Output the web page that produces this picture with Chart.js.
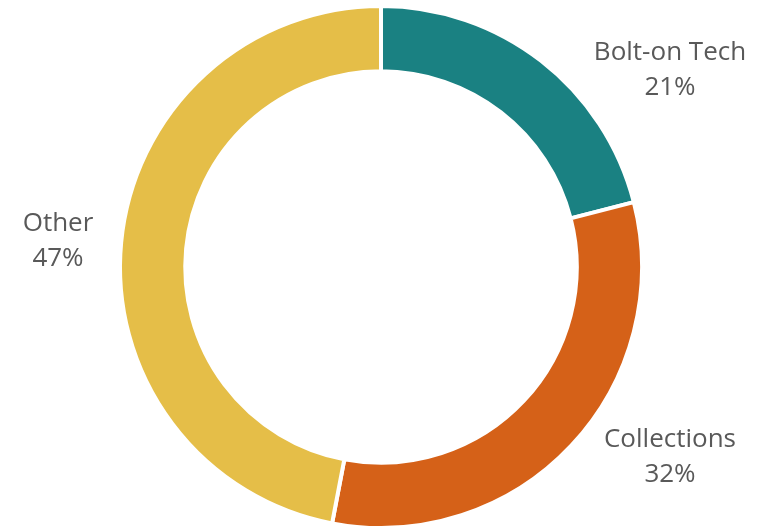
<!DOCTYPE html>
<html>
<head>
<meta charset="utf-8">
<script src="https://cdn.jsdelivr.net/npm/chart.js@4/dist/chart.umd.min.js"></script>
<style>
  html, body { margin: 0; padding: 0; background: #ffffff; overflow: hidden; }
  #wrap { width: 766px; height: 532px; position: relative; }
</style>
</head>
<body>
<div id="wrap"><canvas id="chart"></canvas></div>
<script>
// Share of work by segment
const categories = ['Bolt-on Tech', 'Collections', 'Other'];
const shares = [21, 32, 47];
const sliceColors = ['#1a8182', '#d56118', '#e5be48'];

// Outside labels: name on the first line, percentage on the second
const outsideLabels = {
  id: 'outsideLabels',
  afterDatasetsDraw(chart, args, opts) {
    const { ctx } = chart;
    const meta = chart.getDatasetMeta(0);
    const values = chart.data.datasets[0].data;
    ctx.save();
    ctx.font = opts.font;
    ctx.fillStyle = opts.color;
    ctx.textAlign = 'center';
    ctx.textBaseline = 'middle';
    meta.data.forEach((arc, i) => {
      const p = arc.getProps(['x', 'y', 'startAngle', 'endAngle', 'outerRadius'], true);
      const mid = (p.startAngle + p.endAngle) / 2;
      const s = Math.sin(mid);
      const right = Math.cos(mid) >= 0;
      const edgeY = p.y + s * p.outerRadius;
      const x = right ? p.x + p.outerRadius + opts.gapRight : p.x - p.outerRadius - opts.gapLeft;
      const y = edgeY + (right ? opts.dyRight + opts.dySlope * s : opts.dyLeft);
      ctx.fillText(chart.data.labels[i], x, y - opts.lineHeight / 2);
      ctx.fillText(values[i] + '%', x, y + opts.lineHeight / 2);
    });
    ctx.restore();
  }
};

new Chart(document.getElementById('chart'), {
  type: 'doughnut',
  data: {
    labels: categories,
    datasets: [{
      data: shares,
      backgroundColor: sliceColors,
      borderColor: '#ffffff',
      borderWidth: 4,
      hoverOffset: 0
    }]
  },
  options: {
    responsive: true,
    maintainAspectRatio: false,
    animation: false,
    cutout: '75%',
    layout: { padding: { top: 4, bottom: 2, left: 0, right: 4 } },
    plugins: {
      legend: { display: false },
      tooltip: { enabled: false },
      outsideLabels: {
        font: '26px "Open Sans"',
        color: '#595959',
        lineHeight: 35,
        gapRight: 28,
        gapLeft: 62,
        dyRight: 10.6,
        dySlope: 1.7,
        dyLeft: -1
      }
    }
  },
  plugins: [outsideLabels]
});
</script>
</body>
</html>
